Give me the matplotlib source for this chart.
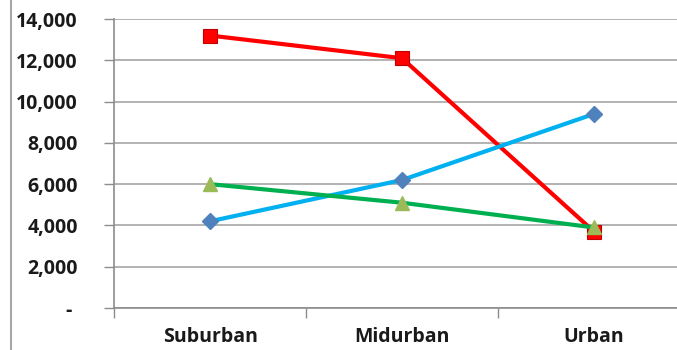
import matplotlib
matplotlib.use("Agg")
import matplotlib.pyplot as plt
from matplotlib.lines import Line2D
from matplotlib.ticker import FuncFormatter, MultipleLocator

categories = ["Suburban", "Midurban", "Urban"]
series_red = [13200, 12100, 3700]
series_blue = [4200, 6200, 9400]
series_green = [6000, 5100, 3900]
y_ticks = [0, 2000, 4000, 6000, 8000, 10000, 12000, 14000]

plt.rcParams["font.family"] = ["Open Sans", "DejaVu Sans"]

fig = plt.figure(figsize=(6.77, 3.5), dpi=100)
ax = fig.add_axes([114 / 677, 42 / 350, 576 / 677, 289 / 350])

x = list(range(len(categories)))

ax.plot(x, series_red, color="#FF0000", lw=3, marker="s", ms=10,
        mfc="#FF0000", mec="#C00000", mew=0.8, zorder=3)
ax.plot(x, series_blue, color="#00B0F0", lw=3, marker="D", ms=8,
        mfc="#4F81BD", mec="#4F81BD", zorder=3)
ax.plot(x, series_green, color="#00B050", lw=3, marker="^", ms=10,
        mfc="#9BBB59", mec="#9BBB59", zorder=4)

ax.set_xlim(-0.5, len(categories) - 0.5)
ax.set_ylim(0, 14000)
ax.set_yticks(y_ticks)
ax.yaxis.set_major_formatter(FuncFormatter(
    lambda v, p: "- " if v == 0 else f"{int(v):,}"))
ax.set_xticks(x)
ax.set_xticklabels(categories)
ax.xaxis.set_minor_locator(MultipleLocator(1, offset=0.5))
ax.tick_params(axis="x", which="major", length=0, pad=14)
ax.tick_params(axis="x", which="minor", length=7, width=1, color="#8C8C8C")
ax.tick_params(axis="y", length=7, width=1, color="#8C8C8C", pad=19)

for lbl in ax.get_xticklabels() + ax.get_yticklabels():
    lbl.set_fontweight("bold")
    lbl.set_fontsize(14)
    lbl.set_color("#1A1A1A")

ax.grid(axis="y", color="#A6A6A6", lw=1.2)
ax.set_axisbelow(True)
for side in ("top", "right"):
    ax.spines[side].set_visible(False)
for side in ("left", "bottom"):
    ax.spines[side].set_color("#8C8C8C")
    ax.spines[side].set_linewidth(1.2)

fig.add_artist(Line2D([10.5 / 677, 10.5 / 677], [0, 1], color="#A6A6A6",
                      lw=1.5, transform=fig.transFigure))

fig.savefig("out.png", dpi=100)
